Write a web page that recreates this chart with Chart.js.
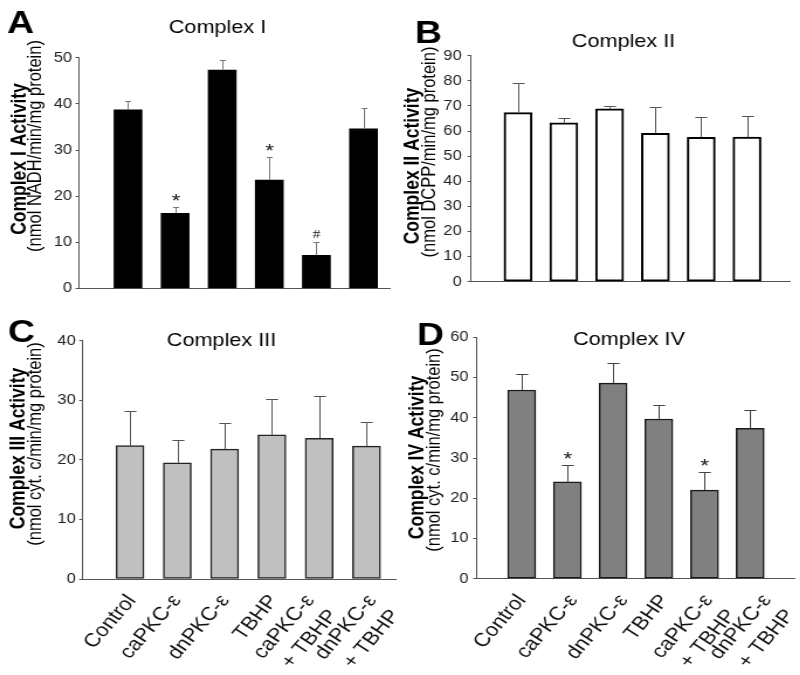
<!DOCTYPE html>
<html>
<head>
<meta charset="utf-8">
<script src="https://cdn.jsdelivr.net/npm/chart.js@4.4.0/dist/chart.umd.min.js"></script>
<style>
  body { margin: 0; background: #fff; }
  #fig { position: relative; width: 800px; height: 675px; overflow: hidden; background: #fff; }
  .panel { position: absolute; transform-origin: 0 0; }
</style>
</head>
<body>
<div id="fig">
  <div class="panel" id="pA"><canvas></canvas></div>
  <div class="panel" id="pB"><canvas></canvas></div>
  <div class="panel" id="pC"><canvas></canvas></div>
  <div class="panel" id="pD"><canvas></canvas></div>
</div>
<script>
// the original figure is a bit stretched sideways, so every panel is drawn narrow and scaled in x
const SX = 1.17;
const FONT = '"Liberation Sans", Arial, Helvetica, sans-serif';

const groups = ['Control', 'caPKC-ε', 'dnPKC-ε', 'TBHP', ['caPKC-ε', '+ TBHP'], ['dnPKC-ε', '+ TBHP']];

const complexI = [38.7, 16.3, 47.3, 23.5, 7.2, 34.6];
const complexIErr = [2.0, 1.3, 2.2, 4.9, 2.9, 4.4];
const complexIMarks = ['', '*', '', '*', '#', ''];
const ticksI = [0, 10, 20, 30, 40, 50];

const complexII = [67.3, 63.3, 68.8, 59.1, 57.5, 57.6];
const complexIIErr = [11.7, 1.8, 1.0, 10.3, 8.1, 8.4];
const complexIIMarks = ['', '', '', '', '', ''];
const ticksII = [0, 10, 20, 30, 40, 50, 60, 70, 80, 90];

const complexIII = [22.4, 19.5, 21.8, 24.2, 23.6, 22.3];
const complexIIIErr = [5.8, 3.8, 4.4, 6.0, 7.2, 4.1];
const complexIIIMarks = ['', '', '', '', '', ''];
const ticksIII = [0, 10, 20, 30, 40];

const complexIV = [46.9, 24.1, 48.6, 39.7, 22.0, 37.4];
const complexIVErr = [4.1, 4.2, 5.0, 3.4, 4.4, 4.6];
const complexIVMarks = ['', '*', '', '', '*', ''];
const ticksIV = [0, 10, 20, 30, 40, 50, 60];

Chart.defaults.font.family = FONT;

// letter, title and the two-line rotated y label
const decor = {
  id: 'decor',
  afterDraw(chart, args, o) {
    const ctx = chart.ctx;
    ctx.save();
    ctx.fillStyle = '#000';
    ctx.textBaseline = 'alphabetic';
    ctx.textAlign = 'left';
    ctx.font = 'bold 32px ' + FONT;
    ctx.fillText(o.letter, o.letterPos[0] / SX, o.letterPos[1]);

    ctx.textAlign = 'center';
    ctx.font = '18.5px ' + FONT;
    ctx.fillText(o.title, o.titlePos[0] / SX, o.titlePos[1]);

    ctx.textBaseline = 'middle';
    ctx.save();
    ctx.translate(o.yLabelPos[0] / SX, o.yLabelPos[1]);
    ctx.rotate(-Math.PI / 2);
    ctx.font = 'bold 17.5px ' + FONT;
    ctx.fillText(o.yLabel, 0, 0);
    ctx.restore();
    ctx.save();
    ctx.translate(o.yUnitPos[0] / SX, o.yUnitPos[1]);
    ctx.rotate(-Math.PI / 2);
    ctx.font = '16.5px ' + FONT;
    ctx.fillText(o.yUnit, 0, 0);
    ctx.restore();
    ctx.restore();
  }
};

// upper error bars plus the significance marks
const errorBars = {
  id: 'errorBars',
  afterDatasetsDraw(chart, args, o) {
    const ctx = chart.ctx;
    const ys = chart.scales.y;
    const meta = chart.getDatasetMeta(0);
    ctx.save();
    ctx.strokeStyle = o.color;
    ctx.lineWidth = 1;
    meta.data.forEach((bar, i) => {
      const x = Math.round(bar.x) + 0.5;
      const top = Math.round(ys.getPixelForValue(o.values[i] + o.errors[i])) + 0.5;
      ctx.beginPath();
      ctx.moveTo(x, bar.y);
      ctx.lineTo(x, top);
      ctx.moveTo(x - o.cap, top);
      ctx.lineTo(x + o.cap, top);
      ctx.stroke();
      const m = o.marks[i];
      if (m) {
        ctx.fillStyle = '#111';
        ctx.textAlign = 'center';
        ctx.textBaseline = 'alphabetic';
        if (m === '#') {
          ctx.font = '13px "Liberation Serif", serif';
          ctx.fillText(m, x, top - 5);
        } else {
          ctx.font = '19px ' + FONT;
          ctx.fillText(m, x, top - 1);
        }
      }
    });
    ctx.restore();
  }
};

function makePanel(p) {
  const wrap = document.getElementById(p.id);
  wrap.style.left = p.x + 'px';
  wrap.style.top = p.y + 'px';
  wrap.style.transform = 'scaleX(' + SX + ')';
  const canvas = wrap.querySelector('canvas');
  const W = Math.round(p.w / SX);
  canvas.width = W;
  canvas.height = p.h;
  canvas.style.width = W + 'px';
  canvas.style.height = p.h + 'px';

  const L = p.area[0] / SX, R = p.area[1] / SX;
  const c1 = p.firstCenter / SX, sp = p.spacing / SX;
  const xMin = 1 - (c1 - L) / sp;
  const xMax = 1 + (R - c1) / sp;

  return new Chart(canvas, {
    type: 'bar',
    data: {
      datasets: [{
        data: p.values.map((v, i) => ({ x: i + 1, y: v })),
        backgroundColor: p.fill,
        borderColor: p.border,
        borderWidth: p.borderWidth,
        borderSkipped: false,
        barThickness: 28 / SX
      }]
    },
    options: {
      responsive: false,
      animation: false,
      events: [],
      layout: { padding: { left: 0, top: p.area[2], right: W - R, bottom: 0 } },
      plugins: {
        legend: { display: false },
        tooltip: { enabled: false },
        decor: p.text,
        errorBars: { values: p.values, errors: p.errors, marks: p.marks, color: p.errColor, cap: p.cap / SX }
      },
      scales: {
        x: {
          type: 'linear',
          min: xMin,
          max: xMax,
          offset: false,
          grid: { display: false },
          border: { color: '#555', width: 1 },
          // the printed labels sit a little off their bars, as in the figure
          afterBuildTicks: s => { s.ticks = groups.map((g, i) => ({ value: i + 1 + p.labelShift[i] })); },
          ticks: {
            display: p.showLabels,
            autoSkip: false,
            minRotation: 53,
            maxRotation: 53,
            padding: 3,
            color: '#111',
            font: { size: 19, lineHeight: 1.3 },
            callback: (v, i) => groups[i]
          },
          afterFit: s => { s.height = p.h - p.area[3]; s.paddingLeft = 0; s.paddingRight = 0; }
        },
        y: {
          min: p.ticks[0],
          max: p.ticks[p.ticks.length - 1],
          ticks: { stepSize: p.ticks[1] - p.ticks[0], padding: p.tickPad, color: '#222', font: { size: 14 } },
          grid: { drawOnChartArea: false, tickLength: 3, color: '#555' },
          border: { color: '#555', width: 1 },
          afterFit: s => { s.width = L; s.paddingTop = 0; s.paddingBottom = 0; }
        }
      }
    },
    plugins: [decor, errorBars]
  });
}

const noShift = [0, 0, 0, 0, 0, 0];

makePanel({
  id: 'pA', x: 0, y: 0, w: 400, h: 300,
  area: [79, 390, 57.7, 288.5], firstCenter: 128, spacing: 47.1,
  values: complexI, errors: complexIErr, marks: complexIMarks, ticks: ticksI,
  fill: '#000', border: '#000', borderWidth: 0, errColor: '#777', cap: 3, tickPad: 3,
  showLabels: false, labelShift: noShift,
  text: {
    letter: 'A', letterPos: [7, 33], title: 'Complex I', titlePos: [217.5, 32.7],
    yLabel: 'Complex I Activity', yLabelPos: [20, 159],
    yUnit: '(nmol NADH/min/mg protein)', yUnitPos: [36, 146]
  }
});

makePanel({
  id: 'pB', x: 400, y: 0, w: 400, h: 300,
  area: [71, 390, 55.7, 281.7], firstCenter: 118, spacing: 45.8,
  values: complexII, errors: complexIIErr, marks: complexIIMarks, ticks: ticksII,
  fill: '#fff', border: '#000', borderWidth: 2, errColor: '#555', cap: 6, tickPad: 5,
  showLabels: false, labelShift: noShift,
  text: {
    letter: 'B', letterPos: [15, 43], title: 'Complex II', titlePos: [223.5, 46.7],
    yLabel: 'Complex II Activity', yLabelPos: [12.5, 166],
    yUnit: '(nmol DCPP/min/mg protein)', yUnitPos: [30, 152]
  }
});

makePanel({
  id: 'pC', x: 0, y: 300, w: 400, h: 375,
  area: [82.7, 396, 40.7, 279], firstCenter: 130, spacing: 47.3,
  values: complexIII, errors: complexIIIErr, marks: complexIIIMarks, ticks: ticksIII,
  fill: '#c0c0c0', border: '#222', borderWidth: 1.5, errColor: '#555', cap: 6, tickPad: 3,
  showLabels: true, labelShift: [0.04, -0.01, 0.01, 0.04, -0.19, 0.12],
  text: {
    letter: 'C', letterPos: [8, 41.7], title: 'Complex III', titlePos: [221.5, 45.7],
    yLabel: 'Complex III Activity', yLabelPos: [19, 148.5],
    yUnit: '(nmol cyt. c/min/mg protein)', yUnitPos: [35.5, 144]
  }
});

makePanel({
  id: 'pD', x: 400, y: 300, w: 400, h: 375,
  area: [76.7, 395, 37.3, 278.7], firstCenter: 121.7, spacing: 45.7,
  values: complexIV, errors: complexIVErr, marks: complexIVMarks, ticks: ticksIV,
  fill: '#808080', border: '#1a1a1a', borderWidth: 1.5, errColor: '#444', cap: 6, tickPad: 4,
  showLabels: true, labelShift: [0, 0.13, 0.23, 0.13, 0.09, 0.37],
  text: {
    letter: 'D', letterPos: [17, 45], title: 'Complex IV', titlePos: [229, 45],
    yLabel: 'Complex IV Activity', yLabelPos: [18, 157.5],
    yUnit: '(nmol cyt. c/min/mg protein)', yUnitPos: [35, 150]
  }
});
</script>
</body>
</html>
